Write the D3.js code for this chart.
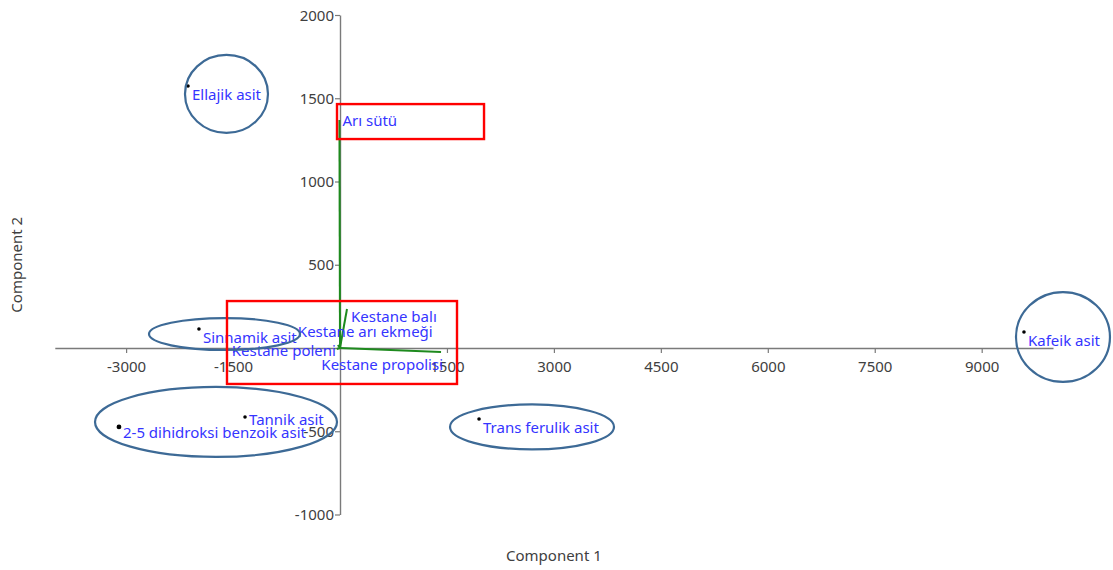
<!DOCTYPE html>
<html>
<head>
<meta charset="utf-8">
<script src="https://cdn.jsdelivr.net/npm/d3@7"></script>
<style>
  html, body { margin: 0; padding: 0; background: #fff; }
  svg { display: block; font-family: "Noto Sans", "Open Sans", sans-serif; }
</style>
</head>
<body>
<svg id="chart" width="1113" height="570"></svg>
<script>
// Scores of the samples (phenolic compounds) on the first two components
const pointNames = ["Ellajik asit", "Sinnamik asit", "Tannik asit", "2-5 dihidroksi benzoik asit", "Trans ferulik asit", "Kafeik asit"];
const pointX = [-2132, -1978, -1332, -3100, 1950, 9593];
const pointY = [1574, 114, -414, -474, -426, 96];

// Loadings of the variables (bee products)
const vectorNames = ["Arı sütü", "Kestane balı", "Kestane arı ekmeği", "Kestane poleni", "Kestane propolisi"];
const vectorX = [-8, 98, -30, -45, 1417];
const vectorY = [1370, 234, 18, -6, -24];

// Axis ticks
const xTicks = [-3000, -1500, 0, 1500, 3000, 4500, 6000, 7500, 9000];
const yTicks = [-1000, -500, 0, 500, 1000, 1500, 2000];

// Highlight groups drawn over the plot (data units)
const ellipseCX = [-1592, -1620, -1739, 2693, 10140];
const ellipseCY = [1526, 84, -444, -474, 66];
const ellipseRX = [582, 1059, 1697, 1150, 659];
const ellipseRY = [234, 96, 210, 135, 270];
const boxX0 = [-42, -1585];
const boxX1 = [2020, 1641];
const boxY0 = [1465, 282];
const boxY1 = [1255, -216];

const svg = d3.select("#chart");

const x = d3.scaleLinear().domain([-4000, 10000]).range([54.8, 1053]);
const y = d3.scaleLinear().domain([-1000, 2000]).range([514.5, 15]);

const axisColor = "#7a7a7a";
const textColor = "#404040";
const labelColor = "#3535ff";
const fmt = d => String(d); // plain hyphen-minus for negatives

// Axes crossing at the origin
const xAxis = svg.append("g")
  .attr("transform", `translate(0,${y(0)})`)
  .call(d3.axisBottom(x).tickValues(xTicks.filter(d => d !== 0)).tickSize(5).tickSizeOuter(0).tickPadding(6).tickFormat(fmt));
const yAxis = svg.append("g")
  .attr("transform", `translate(${x(0)},0)`)
  .call(d3.axisLeft(y).tickValues(yTicks.filter(d => d !== 0)).tickSize(5).tickSizeOuter(0).tickPadding(1).tickFormat(fmt));

[xAxis, yAxis].forEach(g => {
  g.select(".domain").attr("stroke", axisColor).attr("stroke-width", 1.4);
  g.selectAll(".tick line").attr("stroke", axisColor).attr("stroke-width", 1.2);
  g.selectAll(".tick text").attr("fill", textColor).style("font-size", "15px").style("font-family", "'Noto Sans', sans-serif");
});
xAxis.selectAll(".tick text").attr("dy", "0.85em");
yAxis.selectAll(".tick text").attr("dy", "0.34em");

// Axis titles
svg.append("text")
  .attr("x", x(3000)).attr("y", 561)
  .attr("text-anchor", "middle")
  .attr("fill", textColor).style("font-size", "15px")
  .text("Component 1");
svg.append("text")
  .attr("transform", `translate(22,${y(500)}) rotate(-90)`)
  .attr("text-anchor", "middle")
  .attr("fill", textColor).style("font-size", "15px")
  .text("Component 2");

// Loading vectors
const vectors = vectorNames.map((n, i) => ({ name: n, x: vectorX[i], y: vectorY[i] }));
svg.append("g").selectAll("line").data(vectors).join("line")
  .attr("x1", x(0)).attr("y1", y(0))
  .attr("x2", d => x(d.x)).attr("y2", d => y(d.y))
  .attr("stroke", "#1e8a1e").attr("stroke-width", 2);

// label placement around each vector tip: [dx, dy, anchor]
const vectorLabelPlace = {
  "Arı sütü": [3, 6, "start"],
  "Kestane balı": [4, 13, "start"],
  "Kestane arı ekmeği": [-40, -8, "start"],
  "Kestane poleni": [-105, 7, "start"],
  "Kestane propolisi": [2, 18, "end"]
};
svg.append("g").selectAll("text").data(vectors).join("text")
  .attr("x", d => x(d.x) + vectorLabelPlace[d.name][0])
  .attr("y", d => y(d.y) + vectorLabelPlace[d.name][1])
  .attr("text-anchor", d => vectorLabelPlace[d.name][2])
  .attr("fill", labelColor).style("font-size", "15px")
  .text(d => d.name);

// Sample scores
const points = pointNames.map((n, i) => ({ name: n, x: pointX[i], y: pointY[i] }));
svg.append("g").selectAll("circle").data(points).join("circle")
  .attr("cx", d => x(d.x)).attr("cy", d => y(d.y))
  .attr("r", d => d.name.startsWith("2-5") ? 2.4 : 1.8)
  .attr("fill", "#000");

const pointLabelDy = { "Tannik asit": 8, "2-5 dihidroksi benzoik asit": 11 };
svg.append("g").selectAll("text").data(points).join("text")
  .attr("x", d => x(d.x) + 4)
  .attr("y", d => y(d.y) + (pointLabelDy[d.name] ?? 14))
  .attr("fill", labelColor).style("font-size", "15px")
  .text(d => d.name);

// Group outlines
const ellipses = ellipseCX.map((c, i) => ({ cx: c, cy: ellipseCY[i], rx: ellipseRX[i], ry: ellipseRY[i] }));
svg.append("g").selectAll("ellipse").data(ellipses).join("ellipse")
  .attr("cx", d => x(d.cx)).attr("cy", d => y(d.cy))
  .attr("rx", d => x(d.rx) - x(0)).attr("ry", d => y(0) - y(d.ry))
  .attr("fill", "none").attr("stroke", "#3d6a96").attr("stroke-width", 2.2);

const boxes = boxX0.map((v, i) => ({ x0: v, x1: boxX1[i], y0: boxY0[i], y1: boxY1[i] }));
svg.append("g").selectAll("rect").data(boxes).join("rect")
  .attr("x", d => x(d.x0)).attr("y", d => y(d.y0))
  .attr("width", d => x(d.x1) - x(d.x0)).attr("height", d => y(d.y1) - y(d.y0))
  .attr("fill", "none").attr("stroke", "#ff0000").attr("stroke-width", 2.4);
</script>
</body>
</html>
